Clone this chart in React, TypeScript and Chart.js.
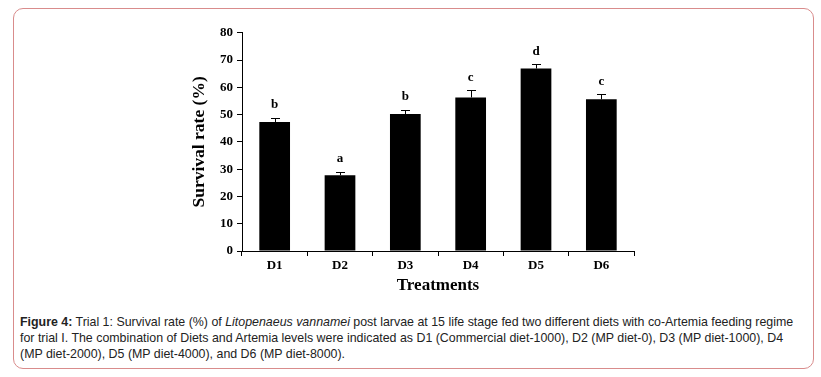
import React, { useEffect, useRef } from "react";
import { Chart, registerables } from "chart.js";

Chart.register(...registerables);

const treatments = ["D1", "D2", "D3", "D4", "D5", "D6"];
const survival = [47.3, 27.8, 50.2, 56.3, 66.9, 55.6];
const errors = [1.5, 1.3, 1.5, 2.6, 1.6, 1.8];
const letters = ["b", "a", "b", "c", "d", "c"];
const yTicks = [0, 10, 20, 30, 40, 50, 60, 70, 80];

const SERIF = "'Liberation Serif', 'Times New Roman', serif";

const errorPlugin = {
  id: "errorLetters",
  afterDatasetsDraw(chart: any) {
    const ctx = chart.ctx;
    const meta = chart.getDatasetMeta(0);
    const y = chart.scales.y;
    ctx.save();
    meta.data.forEach((bar: any, i: number) => {
      const x = bar.x;
      const yTop = y.getPixelForValue(survival[i] + errors[i]);
      const yBase = bar.y;
      ctx.strokeStyle = "#000";
      ctx.lineWidth = 1;
      ctx.beginPath();
      ctx.moveTo(Math.round(x) + 0.5, yBase);
      ctx.lineTo(Math.round(x) + 0.5, Math.round(yTop) + 0.5);
      ctx.moveTo(Math.round(x) - 4, Math.round(yTop) + 0.5);
      ctx.lineTo(Math.round(x) + 5, Math.round(yTop) + 0.5);
      ctx.stroke();
      ctx.fillStyle = "#000";
      ctx.font = `bold 13px ${SERIF}`;
      ctx.textAlign = "center";
      ctx.textBaseline = "middle";
      ctx.fillText(letters[i], x, yTop - 13);
    });
    ctx.restore();
  },
};

export default function App() {
  const ref = useRef<HTMLCanvasElement>(null);
  useEffect(() => {
    if (!ref.current) return;
    const chart = new Chart(ref.current, {
      type: "bar",
      data: {
        labels: treatments,
        datasets: [
          {
            data: survival,
            backgroundColor: "#000",
            borderWidth: 0,
            categoryPercentage: 1,
            barPercentage: 0.47,
          },
        ],
      },
      options: {
        animation: false,
        responsive: false,
        maintainAspectRatio: false,
        layout: { padding: { top: 8, right: 8, left: 0, bottom: 0 } },
        plugins: { legend: { display: false }, tooltip: { enabled: false } },
        scales: {
          x: {
            grid: { drawOnChartArea: false, tickLength: 5, color: "#000", offset: true },
            border: { color: "#000", width: 1 },
            ticks: { color: "#000", font: { family: SERIF, size: 13, weight: "bold" }, padding: 2 },
            title: {
              display: true,
              text: "Treatments",
              color: "#000",
              font: { family: SERIF, size: 17, weight: "bold" },
              padding: { top: 0, bottom: 0 },
            },
          },
          y: {
            min: 0,
            max: 80,
            afterBuildTicks: (scale: any) => {
              scale.ticks = yTicks.map((v) => ({ value: v }));
            },
            grid: { drawOnChartArea: false, tickLength: 5, color: "#000" },
            border: { color: "#000", width: 1 },
            ticks: { color: "#000", font: { family: SERIF, size: 13, weight: "bold" }, padding: 4 },
            title: {
              display: true,
              text: "Survival rate (%)",
              color: "#000",
              font: { family: SERIF, size: 17.5, weight: "bold" },
              padding: { top: 0, bottom: 6 },
            },
          },
        },
      },
      plugins: [errorPlugin],
    });
    return () => chart.destroy();
  }, []);

  return (
    <div>
      <div
        style={{
          position: "absolute",
          left: 13,
          top: 8,
          width: 799,
          height: 359,
          border: "1px solid #d98c8c",
          borderRadius: 10,
          background: "#fff",
        }}
      />
      <canvas
        ref={ref}
        width={453}
        height={275}
        style={{ position: "absolute", left: 189, top: 21, width: 453, height: 275 }}
      />
      <div
        style={{
          position: "absolute",
          left: 20,
          top: 314,
          width: 782,
          fontFamily: "'Liberation Sans', Arial, sans-serif",
          fontSize: 12.4,
          lineHeight: "16px",
          color: "#222",
        }}
      >
        <b>Figure 4:</b> Trial 1: Survival rate (%) of <i>Litopenaeus vannamei</i> post larvae at 15 life stage fed two
        different diets with co-Artemia feeding regime for trial I. The combination of Diets and Artemia levels were
        indicated as D1 (Commercial diet-1000), D2 (MP diet-0), D3 (MP diet-1000), D4 (MP diet-2000), D5 (MP
        diet-4000), and D6 (MP diet-8000).
      </div>
    </div>
  );
}
